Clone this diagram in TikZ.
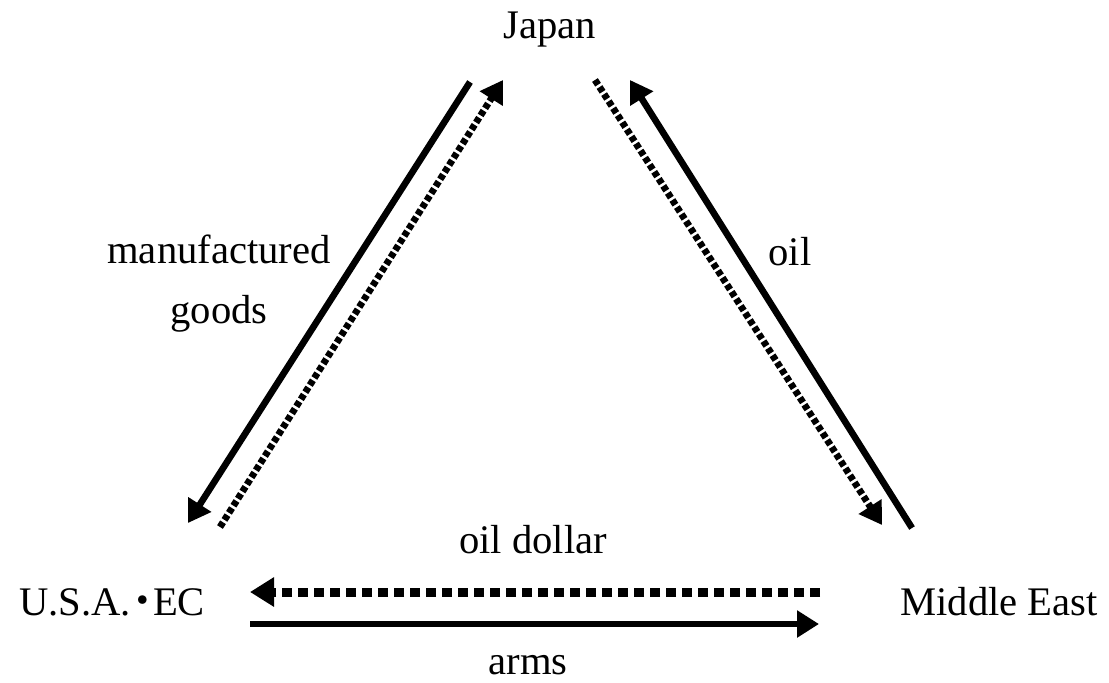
\documentclass[tikz,border=0pt]{standalone}
\usepackage{fontspec}
\setmainfont{Liberation Serif}
\newfontfamily\cjk{Noto Sans CJK JP}
\usetikzlibrary{arrows.meta}

\tikzset{
    lbl/.style={inner sep=0pt,font=\fontsize{20.3}{30}\selectfont,align=center},
    flow/.style={line width=3.3pt,-{Triangle[length=11pt,width=13pt]}},
    money/.style={line width=3.4pt,dash pattern=on 2.8pt off 1.4pt,-{Triangle[length=11pt,width=13pt]}},
    moneyb/.style={line width=4.5pt,dash pattern=on 5pt off 3pt,-{Triangle[length=12pt,width=14pt]}}
}

\begin{document}
\begin{tikzpicture}[x=0.5pt,y=-0.5pt]
            \useasboundingbox (0,0) rectangle (1109,682);

            \node[lbl] (jp) at (550,30) {Japan};
            \node[lbl] (us) at (112,602) {U.S.A.\kern-0.2em{\cjk ・}\kern-0.25em EC};
            \node[lbl] (me) at (999,602) {Middle East};

            \node[lbl] (goods) at (219,284) {manufactured\\goods};
            \node[lbl] (oil) at (790,252) {oil};
            \node[lbl] (dollar) at (533,540) {oil dollar};
            \node[lbl] (arms) at (528,665) {arms};

            % ends of the arrows
            \coordinate (gj) at (470,82);   \coordinate (gu) at (188,523);
            \coordinate (du) at (220,527);  \coordinate (dj) at (503,80);
            \coordinate (pj) at (595,80);   \coordinate (pm) at (882,525);
            \coordinate (om) at (912,528);  \coordinate (oj) at (630,80);
            \coordinate (dm) at (820,592);  \coordinate (dl) at (250,592);
            \coordinate (al) at (250,624);  \coordinate (am) at (819,624);

            \draw [flow] (gj) -- (gu);
            \draw [money] (du) -- (dj);
            \draw [money] (pj) -- (pm);
            \draw [flow] (om) -- (oj);
            \draw [moneyb] (dm) -- (dl);
            \draw [flow] (al) -- (am);
\end{tikzpicture}
\end{document}
